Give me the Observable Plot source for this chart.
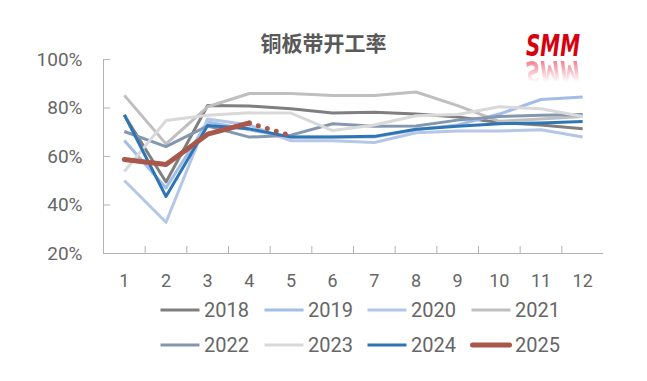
<!DOCTYPE html>
<html><head><meta charset="utf-8">
<script src="https://cdn.jsdelivr.net/npm/d3@7"></script>
<script src="https://cdn.jsdelivr.net/npm/@observablehq/plot@0.6"></script>
<style>
body{margin:0;background:#fff;}
#wrap{position:relative;width:647px;height:381px;overflow:hidden;font-family:Roboto,"Noto Sans",sans-serif;background:#fff;}
#chart{position:absolute;left:0;top:0;}
#title{position:absolute;left:0;top:27px;width:647px;text-align:center;font-family:"Noto Sans CJK SC",sans-serif;font-weight:bold;font-size:21px;line-height:30px;color:#595959;}
#logo{position:absolute;left:518px;top:26px;}
.leg{position:absolute;display:flex;align-items:center;height:30px;font-size:20px;color:#666;}
.leg svg{margin-right:3px;}
</style></head>
<body><div id="wrap"><div id="chart"></div><div id="title"></div><div id="logo"></div><div id="legend"></div></div>
<script>
const title = "铜板带开工率";
const months = [1,2,3,4,5,6,7,8,9,10,11,12];
const yTicks = [20,40,60,80,100];
const years = ["2018","2019","2020","2021","2022","2023","2024","2025"];
const colors = ["#7f7f7f","#a3bde6","#b4c7e7","#bfbfbf","#8497b0","#d9d9d9","#2e75b6","#a9574a"];
const v2018 = [77.0,49.5,81.0,80.8,79.7,77.9,78.2,77.5,76.3,74.0,73.0,71.4];
const v2019 = [66.6,47.0,74.2,71.0,68.0,68.0,68.0,71.0,73.0,77.5,83.5,84.5];
const v2020 = [50.1,32.9,75.5,73.0,66.5,66.5,65.8,69.8,70.5,70.5,71.0,68.0];
const v2021 = [85.2,65.2,80.5,86.0,86.0,85.2,85.2,86.6,81.0,74.5,75.5,76.5];
const v2022 = [70.3,64.1,72.6,68.0,68.8,73.5,72.5,72.6,75.0,76.5,77.0,77.3];
const v2023 = [53.8,74.8,77.0,78.0,77.9,70.7,73.0,76.8,77.3,80.5,79.7,76.5];
const v2024 = [77.2,43.5,72.8,71.4,68.0,68.0,68.3,71.2,72.5,73.5,73.8,74.4];
const v2025 = [58.8,56.7,69.2,73.8];
const forecastMonths = [4,5];
const v2025Forecast = [73.8,68.5];
const series = [v2018,v2019,v2020,v2021,v2022,v2023,v2024,v2025];

const W = 647, H = 300;
const halfTicks = d3.range(1.5, 12, 1);
const marks = [
  Plot.ruleX([0.5], {y1: 20, y2: 100, stroke: "#b3b3b3", strokeWidth: 1}),
  Plot.ruleY([20], {x1: 0.5, x2: 12.5, stroke: "#b3b3b3", strokeWidth: 1}),
  Plot.axisY({ticks: yTicks, tickSize: 7, dx: 7, text: null, label: null, stroke: "#b3b3b3"}),
  Plot.axisY({ticks: yTicks, tickSize: 0, tickPadding: 21, label: null, tickFormat: d => d + "%", fontSize: 19, fill: "#666"}),
  Plot.axisX({ticks: halfTicks, tickSize: 7, dy: -7, text: null, label: null, stroke: "#b3b3b3"}),
  Plot.axisX({ticks: months, tickSize: 0, tickPadding: 21, label: null, tickFormat: d => String(d), fontSize: 18, fill: "#666"})
];
series.forEach((vals, i) => {
  const data = vals.map((v, j) => ({m: months[j], v}));
  marks.push(Plot.line(data, {x: "m", y: "v", stroke: colors[i], strokeWidth: i === 7 ? 5 : 3, strokeLinejoin: "round", strokeLinecap: i === 7 ? "round" : "butt"}));
});
marks.push(Plot.line(forecastMonths.map((m, j) => ({m, v: v2025Forecast[j]})), {x: "m", y: "v", stroke: colors[7], strokeWidth: 5, strokeLinecap: "round", strokeDasharray: "0 9.4"}));

const chart = Plot.plot({
  width: W, height: H,
  marginLeft: 103, marginRight: 44, marginTop: 59, marginBottom: 47,
  x: {type: "linear", domain: [0.5, 12.5], axis: null},
  y: {domain: [20, 100], axis: null},
  style: {fontFamily: "Roboto, 'Noto Sans', sans-serif", background: "transparent", overflow: "visible"},
  marks
});
document.getElementById("chart").appendChild(chart);
document.getElementById("title").textContent = title;

// logo
document.getElementById("logo").innerHTML = `
<svg width="76" height="62" xmlns="http://www.w3.org/2000/svg">
 <defs>
  <linearGradient id="fade" x1="0" y1="0" x2="0" y2="1">
   <stop offset="0" stop-color="#fff" stop-opacity="0.55"/>
   <stop offset="1" stop-color="#fff" stop-opacity="0"/>
  </linearGradient>
  <mask id="m"><rect x="0" y="34" width="76" height="22" fill="url(#fade)"/></mask>
 </defs>
 <text x="8" y="30" textLength="54" lengthAdjust="spacingAndGlyphs" font-family="'DejaVu Sans'" font-weight="bold" font-style="italic" font-size="31" fill="#d7000f">SMM</text>
 <g mask="url(#m)"><text x="8" y="-35" transform="scale(1,-1)" textLength="54" lengthAdjust="spacingAndGlyphs" font-family="'DejaVu Sans'" font-weight="bold" font-style="italic" font-size="31" fill="#e8102a">SMM</text></g>
</svg>`;

// legend
const legCols = [159, 263, 366, 470];
const legRows = [295, 330];
const legend = document.getElementById("legend");
years.forEach((yr, i) => {
  const d = document.createElement("div");
  d.className = "leg";
  d.style.left = legCols[i % 4] + "px";
  d.style.top = legRows[Math.floor(i / 4)] + "px";
  const sw = i === 7 ? 5 : 3;
  d.innerHTML = `<svg width="42" height="10"><line x1="${sw/2}" x2="${42 - sw/2}" y1="5" y2="5" stroke="${colors[i]}" stroke-width="${sw}" stroke-linecap="${i === 7 ? "round" : "butt"}"/></svg><span>${yr}</span>`;
  legend.appendChild(d);
});
</script></body></html>
